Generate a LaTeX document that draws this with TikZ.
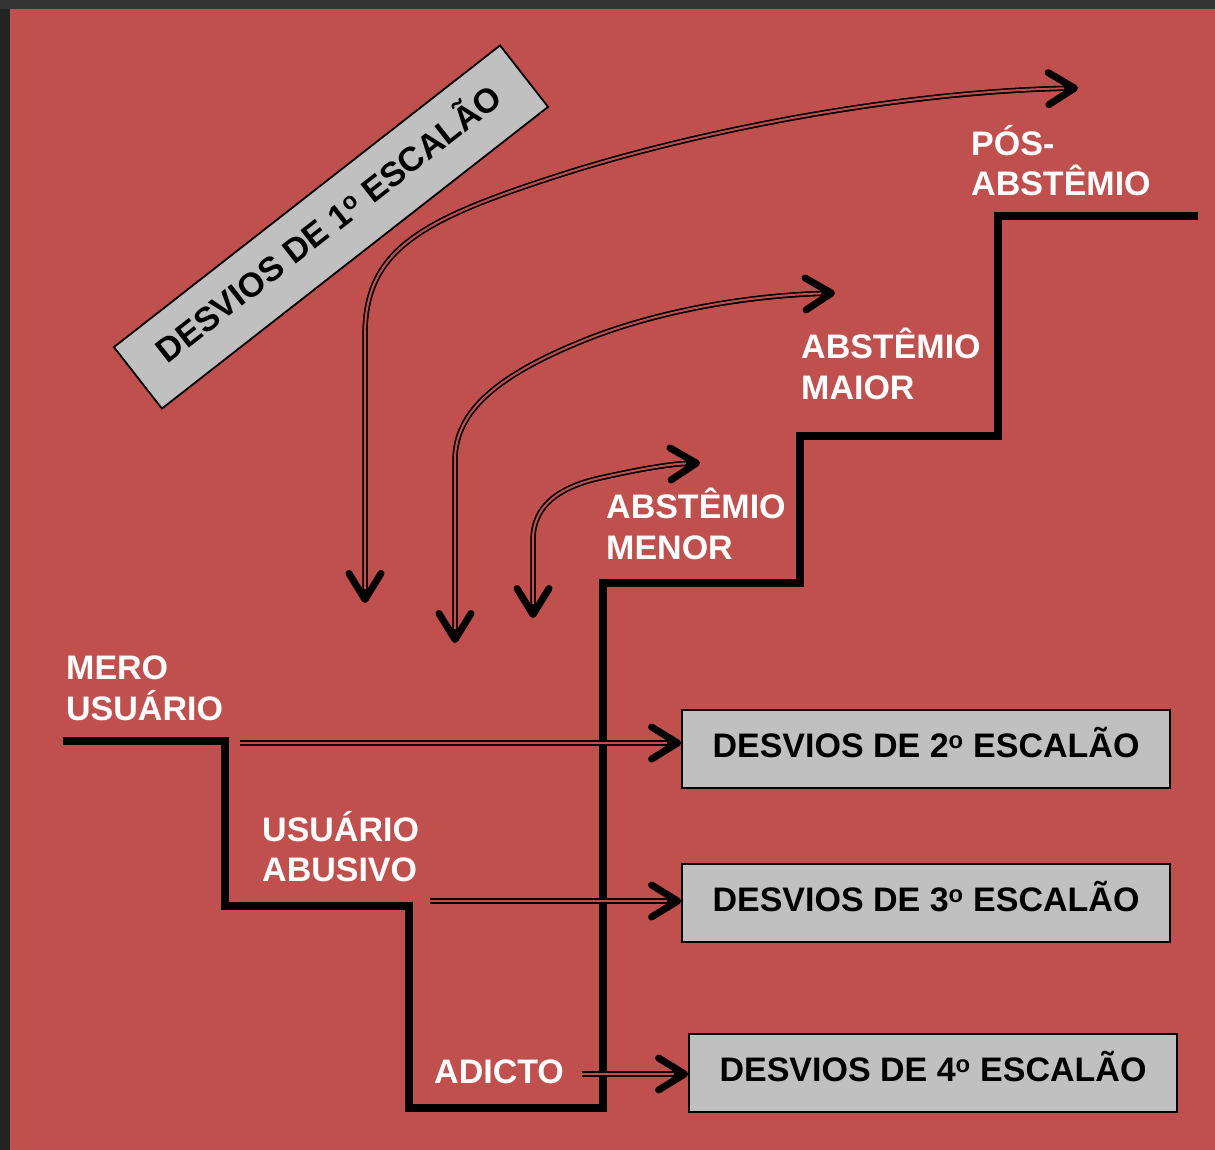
\documentclass[tikz,border=0pt]{standalone}
\usepackage{fontspec}
\setmainfont{Liberation Sans}
\usetikzlibrary{arrows.meta}

\definecolor{stairred}{HTML}{C0504D}
\definecolor{boxgray}{HTML}{C0C0C0}
\definecolor{frame}{HTML}{242424}
\definecolor{frametop}{HTML}{343434}

\newcommand{\ordo}{\textsuperscript{o}}
\newcommand{\bigbold}{\fontsize{34}{40.5}\selectfont\bfseries}

\tikzset{
  barb/.tip={Straight Barb[length=26pt,width=32pt,line width=7pt 0,round]},
  stair/.style={line width=8pt, line join=miter},
  lvltext/.style={text=white, font=\bigbold, align=left, anchor=north west,
    inner sep=0pt, execute at begin node={\rule{0pt}{32pt}}},
  desvio/.style={draw=black, line width=1.8pt, fill=boxgray, font=\bigbold,
    minimum width=488pt, minimum height=78pt, inner sep=0pt, text depth=14pt},
  dblarrow/.style={line width=5pt, postaction={draw, arrows=-, double=stairred,
    double distance=2pt, line width=1.6pt, shorten <=#1, shorten >=14pt}},
  dblarrow/.default=14pt
}

\begin{document}
\begin{tikzpicture}[x=1pt, y=-1pt]
  \useasboundingbox (0,0) rectangle (1215,1150);
  % backdrop
  \fill[frame] (0,0) rectangle (1215,1150);
  \fill[frametop] (0,0) rectangle (1215,9);
  \fill[stairred] (10,9) rectangle (1215,1150);

  % the stairs
  \draw[stair] (63,741) -- (225,741) -- (225,906) -- (409,906) -- (409,1108)
    -- (603,1108) -- (603,583) -- (800,583) -- (800,436) -- (998,436)
    -- (998,216) -- (1198,216);

  % steps
  \node[lvltext] (mero) at (66,656) {MERO\\USUÁRIO};
  \node[lvltext] (abusivo) at (262,811) {USUÁRIO\\ABUSIVO};
  \node[lvltext] (adicto) at (434,1051) {ADICTO};
  \node[lvltext] (menor) at (606,488) {ABSTÊMIO\\MENOR};
  \node[lvltext] (maior) at (801,328) {ABSTÊMIO\\MAIOR};
  \node[lvltext] (pos) at (971,125) {PÓS-\\ABSTÊMIO};

  % deviations
  \node[desvio, minimum width=490pt, rotate=38] (d1) at (331,227) {DESVIOS DE 1\ordo{} ESCALÃO};
  \node[desvio] (d2) at (926,749) {DESVIOS DE 2\ordo{} ESCALÃO};
  \node[desvio] (d3) at (926,903) {DESVIOS DE 3\ordo{} ESCALÃO};
  \node[desvio] (d4) at (933,1073) {DESVIOS DE 4\ordo{} ESCALÃO};

  % arrows into the boxes
  \coordinate (h2) at (240,743);
  \coordinate (h3) at (430,901);
  \coordinate (h4) at (582,1074);
  \draw[dblarrow=0pt, -barb] (h2) -- (h2 -| d2.west);
  \draw[dblarrow=0pt, -barb] (h3) -- (h3 -| d3.west);
  \draw[dblarrow=0pt, -barb] (h4) -- (h4 -| d4.west);

  % arrows over the stairs
  \coordinate (a1) at (365,603);
  \coordinate (a2) at (1078,88);
  \coordinate (b1) at (455,643);
  \coordinate (b2) at (835,293);
  \coordinate (c1) at (533,618);
  \coordinate (c2) at (700,463);
  \draw[dblarrow, barb-barb] (a1) -- (365,335) .. controls (365,250) and (420,220) .. (560,175)
    .. controls (700,130) and (900,92) .. (a2);
  \draw[dblarrow, barb-barb] (b1) -- (455,460) .. controls (455,410) and (500,375) .. (580,342)
    .. controls (650,313) and (740,296) .. (b2);
  \draw[dblarrow, barb-barb] (c1) -- (533,540) .. controls (533,505) and (560,487) .. (600,478)
    .. controls (640,469) and (670,464) .. (c2);
\end{tikzpicture}
\end{document}
